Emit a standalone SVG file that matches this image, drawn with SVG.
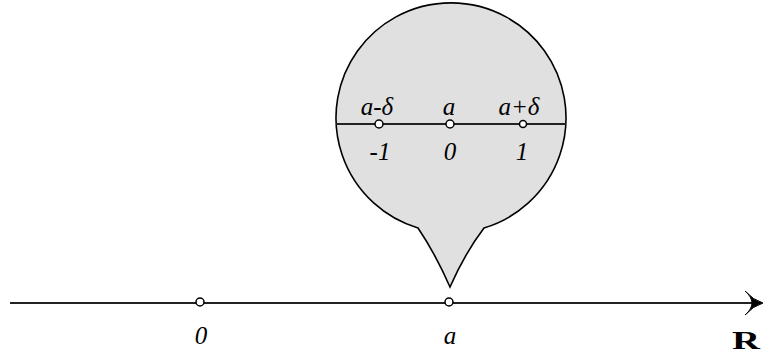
<svg xmlns="http://www.w3.org/2000/svg" width="765" height="355" viewBox="0 0 765 355">
<style>
.t{font-family:"Liberation Serif","DejaVu Serif",serif;font-style:italic;font-size:25px;fill:#000;text-anchor:middle}
.pt{fill:#fff;stroke:#000;stroke-width:1.5}
.ln{stroke:#222;stroke-width:2;fill:none}
</style>
<rect width="765" height="355" fill="#fff"/>
<g id="bubble">
<path d="M418,228 A115,115 0 1 1 484,228 Q465,253 450,287 Q435,253 418,228 Z" fill="#e0e0e0" stroke="#000" stroke-width="1.6"/>
</g>
<g id="connectors">
<line class="ln" x1="336" y1="124" x2="566" y2="124"/>
<line class="ln" x1="10" y1="303" x2="756" y2="303"/>
<path d="M745,291 Q753,300 763,303 Q753,306 745,315 Q752,309 752,303 Q752,297 745,291 Z" fill="#000" stroke="#000" stroke-width="1"/>
</g>
<g id="inner-points">
<circle class="pt" cx="379" cy="124" r="4"/>
<circle class="pt" cx="450" cy="124" r="4"/>
<circle class="pt" cx="523" cy="124" r="3.5"/>
<text class="t" x="377" y="115" font-size="26">a-δ</text>
<text class="t" x="449" y="115" font-size="26">a</text>
<text class="t" x="519" y="115" font-size="26">a+δ</text>
<text class="t" x="380" y="160">-1</text>
<text class="t" x="450" y="160">0</text>
<text class="t" x="522" y="160">1</text>
</g>
<g id="axis-points">
<circle class="pt" cx="200" cy="302" r="4"/>
<circle class="pt" cx="449" cy="302" r="4"/>
<text class="t" x="201" y="344">0</text>
<text class="t" x="450" y="344">a</text>
<text x="746" y="349" font-family="Liberation Serif, serif" font-weight="bold" font-size="25" text-anchor="middle" textLength="28" lengthAdjust="spacingAndGlyphs">R</text>
</g>
</svg>
